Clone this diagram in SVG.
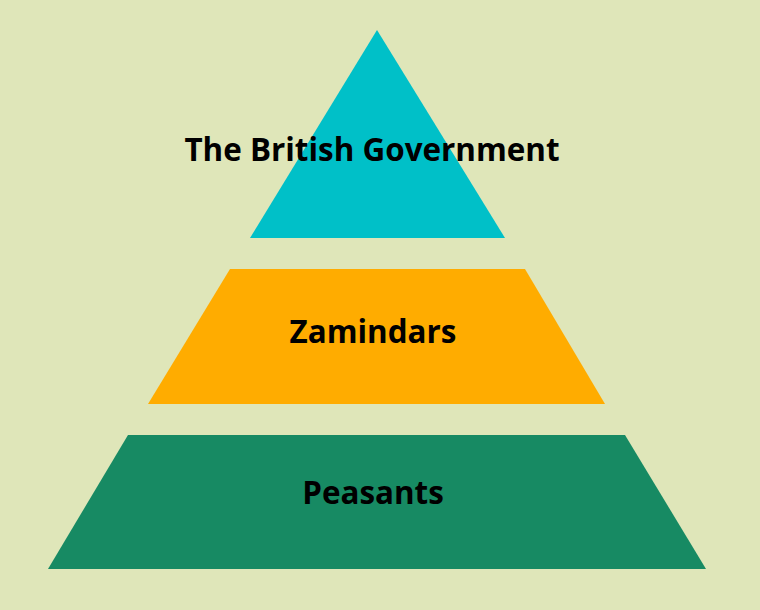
<svg xmlns="http://www.w3.org/2000/svg" width="760" height="610" viewBox="0 0 760 610">
<style>
.lbl{font-family:"Open Sans","Noto Sans","Liberation Sans",sans-serif;font-weight:bold;font-size:31.4px;fill:#000;text-anchor:middle}
</style>
<rect width="760" height="610" fill="#dfe6b9"/>
<g id="peasants">
<polygon points="128,435 625,435 706,569 48,569" fill="#178a63"/>
<text class="lbl" x="373" y="504">Peasants</text>
</g>
<g id="zamindars">
<polygon points="230,269 525,269 605,404 148,404" fill="#ffac00"/>
<text class="lbl" x="373" y="343">Zamindars</text>
</g>
<g id="government">
<polygon points="377,30 505,238 250,238" fill="#00c0c8"/>
<text class="lbl" x="372" y="161">The British Government</text>
</g>
<g id="connectors"/>
</svg>
